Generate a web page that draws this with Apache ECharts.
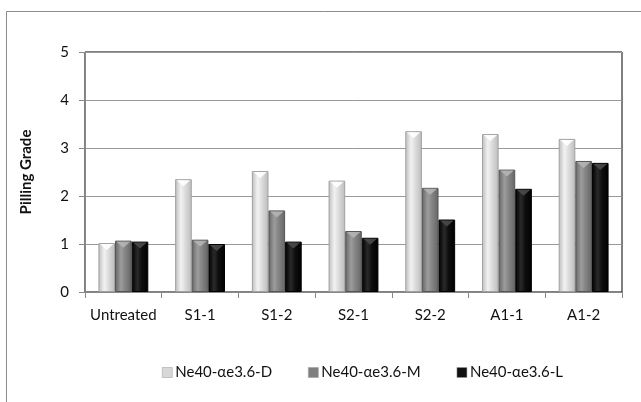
<!DOCTYPE html>
<html>
<head>
<meta charset="utf-8">
<script src="https://cdn.jsdelivr.net/npm/echarts@6/dist/echarts.min.js"></script>
<style>html,body{margin:0;padding:0;background:#fff}#c{width:641px;height:402px}</style>
</head>
<body>
<div id="c"></div>
<script>
const categories = ['Untreated', 'S1-1', 'S1-2', 'S2-1', 'S2-2', 'A1-1', 'A1-2'];
const seriesNames = ['Ne40-\u03b1e3.6-D', 'Ne40-\u03b1e3.6-M', 'Ne40-\u03b1e3.6-L'];
const valuesD = [1.02, 2.35, 2.52, 2.32, 3.35, 3.29, 3.19];
const valuesM = [1.07, 1.09, 1.70, 1.27, 2.17, 2.55, 2.73];
const valuesL = [1.05, 1.00, 1.05, 1.13, 1.51, 2.15, 2.69];
const yTicks = [0, 1, 2, 3, 4, 5];

const FONT = 'Lato';
const GAP = 0.35;
function grad(edge, mid, light) {
  return new echarts.graphic.LinearGradient(0, 0, 1, 0, [
    {offset: 0, color: edge},
    {offset: 0.35, color: light},
    {offset: 0.6, color: mid},
    {offset: 1, color: edge}
  ]);
}
const styles = [
  {color: grad('#bcbcbc', '#dcdcdc', '#f2f2f2'), borderColor: '#a0a0a0'},
  {color: grad('#656565', '#858585', '#9c9c9c'), borderColor: '#555555'},
  {color: grad('#000000', '#0e0e0e', '#2a2a2a'), borderColor: '#000000'}
];
const capColors = ['#ffffff', '#b4b4b4', '#4a4a4a'];
const legendColors = ['#d8d8d8', '#808080', '#111111'];
const allValues = [valuesD, valuesM, valuesL];

function capSeries(i) {
  return {
    type: 'custom', name: seriesNames[i] + ' cap', silent: true, z: 5,
    data: allValues[i].map((v, k) => [k, v]),
    renderItem: function (params, api) {
      const cat = api.value(0), val = api.value(1);
      const top = api.coord([cat, val]);
      const cw = api.size([1, 0])[0];
      const bw = cw * (1 - GAP) / 3;
      const cx = top[0] + (i - 1) * bw;
      const x0 = cx - bw / 2 + 1.5, x1 = cx + bw / 2 - 1.5;
      const y = top[1] + 1;
      return {
        type: 'polygon',
        shape: {points: [[x0, y], [x1, y], [cx, y + 6]]},
        style: {fill: capColors[i], opacity: 0.9}
      };
    }
  };
}

const chart = echarts.init(document.getElementById('c'));
chart.setOption({
  animation: false,
  backgroundColor: '#fff',
  textStyle: {fontFamily: FONT},
  graphic: [{
    type: 'rect', shape: {x: 6.5, y: 11.5, width: 700, height: 500},
    style: {fill: 'none', stroke: '#8c8c8c', lineWidth: 1}, z: -10
  }],
  grid: {left: 85, right: 19, top: 52, bottom: 110, show: true, borderColor: '#000', borderWidth: 1},
  legend: {
    top: 360, left: 157, itemWidth: 10, itemHeight: 10, itemGap: 36,
    icon: 'rect',
    textStyle: {fontFamily: FONT, fontSize: 15, color: '#111', padding: [0, 0, 0, -2]},
    data: seriesNames.map((n, i) => ({name: n, itemStyle: {color: legendColors[i], borderColor: '#999', borderWidth: 0.5}}))
  },
  xAxis: {
    type: 'category', data: categories,
    axisLine: {lineStyle: {color: '#888', width: 1}},
    axisTick: {show: true, length: 6, lineStyle: {color: '#888'}},
    axisLabel: {fontFamily: FONT, fontSize: 15, color: '#111', margin: 16, interval: 0}
  },
  yAxis: {
    type: 'value', min: 0, max: 5, interval: 1,
    name: 'Pilling Grade', nameLocation: 'middle', nameGap: 51, nameRotate: 90,
    nameTextStyle: {fontFamily: FONT, fontSize: 15, fontWeight: 'bold', color: '#111'},
    axisLine: {show: true, lineStyle: {color: '#888', width: 1}},
    axisTick: {show: true, length: 6, lineStyle: {color: '#888'}},
    axisLabel: {fontFamily: FONT, fontSize: 15, color: '#111', margin: 16,
      formatter: v => yTicks.includes(v) ? String(v) : ''},
    splitLine: {lineStyle: {color: '#999', width: 1}}
  },
  series: seriesNames.map((n, i) => ({
    name: n, type: 'bar', data: allValues[i],
    barGap: '0%', barCategoryGap: (GAP * 100) + '%',
    itemStyle: Object.assign({borderWidth: 1}, styles[i])
  })).concat([0, 1, 2].map(capSeries))
});
</script>
</body>
</html>
